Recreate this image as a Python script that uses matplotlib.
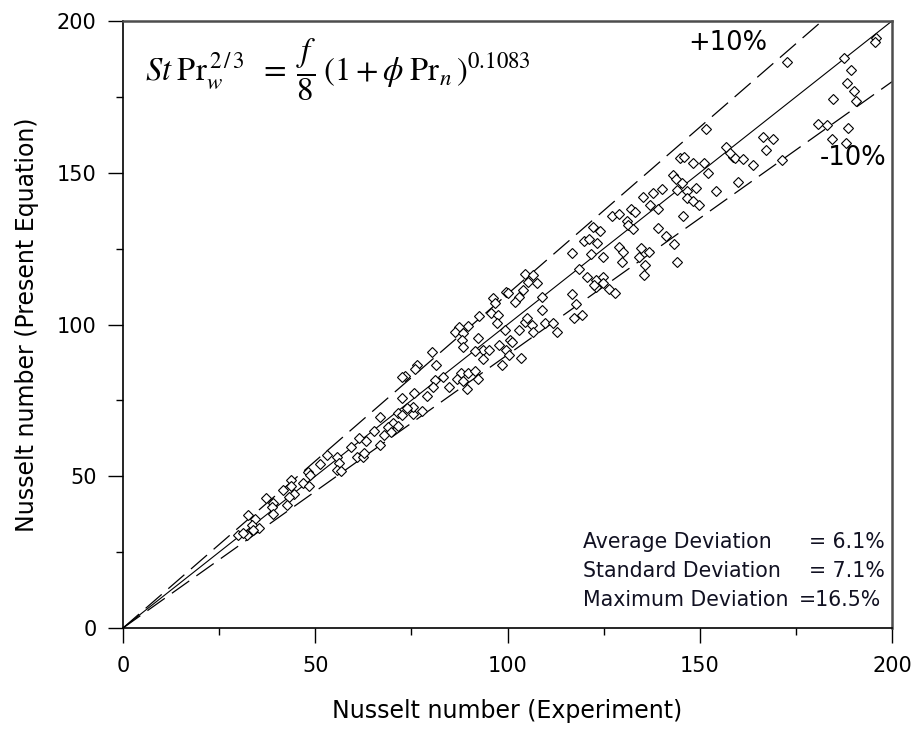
import numpy as np
import matplotlib
matplotlib.use("Agg")
import matplotlib.pyplot as plt

plt.rcParams['mathtext.fontset'] = 'stix'

# Nusselt number: experiment vs. present equation
nu_exp = [
    66.8, 71.6, 75.3, 72.5, 70.3, 69.0, 71.6, 69.6, 67.9, 66.8, 65.3, 61.5, 63.2, 59.2, 60.9,
    62.5, 62.7, 53.1, 55.7, 56.3, 55.7, 56.6, 51.2, 48.2, 48.6, 46.9, 48.5, 43.6, 41.7, 43.6,
    44.5, 43.3, 42.6, 37.2, 39.1, 38.7, 39.1, 32.6, 34.3, 33.5, 35.4, 32.3, 30.0, 31.3, 33.9,
    105.4, 107.6, 99.6, 100.2, 96.3, 96.7, 103.1, 104.1, 101.9, 109.1, 116.7, 117.8, 123.0, 108.9, 119.3,
    117.3, 95.6, 97.4, 97.2, 92.7, 89.6, 87.5, 86.3, 88.5, 88.1, 88.5, 99.4, 103.1, 104.6, 105.0,
    106.3, 106.7, 109.8, 111.9, 112.8, 92.4, 93.7, 95.3, 93.6, 91.5, 97.9, 99.6, 100.6, 101.1, 100.5,
    103.4, 98.5, 81.3, 80.3, 76.5, 75.9, 73.3, 72.5, 87.8, 89.8, 91.5, 86.8, 88.3, 92.4, 89.4,
    83.3, 81.1, 80.7, 84.9, 79.1, 75.7, 75.5, 77.7, 73.8, 72.5, 104.6, 106.6,
    144.9, 145.9, 148.2, 151.1, 152.2, 158.6, 159.2, 161.2, 163.9, 160.0, 143.1, 143.8, 145.3, 144.0, 146.8,
    149.0, 154.1, 146.6, 148.2, 149.9, 140.1, 137.9, 135.2, 137.1, 139.1, 145.7, 132.1, 133.2, 127.2, 129.1,
    131.2, 131.4, 132.6, 122.2, 124.1, 139.1, 141.2, 143.3, 119.9, 121.3, 123.2, 129.1, 130.1, 134.7, 136.9,
    124.8, 121.6, 129.7, 134.3, 135.8, 135.5, 144.2, 118.7, 120.8, 123.0, 124.9, 122.5, 124.9, 126.5, 128.0,
    116.7,
    172.6, 195.8, 195.6, 187.5, 189.3, 188.2, 190.1, 190.6, 184.6, 180.8, 183.0, 188.6, 184.3, 188.0, 166.4,
    169.1, 167.2, 171.3, 151.5, 156.8, 157.9,
]
nu_eq = [
    69.6, 70.7, 70.5, 70.2, 67.6, 66.3, 66.6, 64.7, 63.6, 60.3, 65.0, 62.5, 61.7, 59.5, 56.4,
    56.4, 57.8, 57.0, 56.4, 54.5, 52.1, 51.8, 54.0, 51.5, 50.4, 47.9, 46.8, 48.8, 45.5, 46.8,
    44.2, 43.1, 40.5, 42.7, 41.3, 40.0, 37.6, 37.2, 35.8, 33.9, 32.8, 30.6, 30.6, 31.4, 32.3,
    114.1, 113.6, 110.8, 110.3, 108.6, 107.0, 109.2, 111.4, 107.5, 109.2, 110.0, 106.8, 112.5, 104.8, 103.1,
    102.0, 103.7, 103.1, 100.4, 102.8, 99.5, 99.3, 97.6, 97.1, 94.9, 92.7, 98.2, 98.2, 100.9, 102.0,
    99.8, 97.6, 100.6, 100.6, 97.6, 95.4, 91.6, 91.6, 88.5, 91.4, 93.2, 91.6, 94.9, 94.3, 90.0,
    88.9, 86.7, 86.7, 91.0, 86.7, 85.2, 83.0, 82.6, 84.1, 83.9, 84.8, 81.9, 81.5, 81.9, 78.6,
    82.6, 81.7, 79.5, 79.3, 76.4, 77.3, 72.9, 71.6, 72.4, 75.7, 116.5, 116.3,
    154.9, 155.2, 153.1, 153.1, 149.8, 155.3, 154.8, 154.4, 152.6, 147.1, 149.3, 147.8, 146.5, 144.3, 144.1,
    144.9, 144.0, 141.6, 140.8, 139.4, 144.5, 143.4, 142.1, 139.4, 137.9, 135.7, 137.9, 137.0, 135.8, 136.3,
    134.2, 132.8, 131.4, 132.0, 130.9, 131.9, 129.2, 126.5, 127.6, 128.1, 127.0, 125.6, 123.9, 125.1, 123.9,
    122.1, 123.2, 120.7, 122.1, 119.6, 116.3, 120.6, 118.2, 115.6, 114.7, 115.8, 113.0, 113.6, 111.6, 110.3,
    123.5,
    186.6, 194.3, 193.2, 187.7, 183.9, 179.7, 177.1, 173.7, 174.2, 166.1, 165.7, 164.9, 161.0, 159.9, 161.9,
    161.0, 157.5, 154.2, 164.5, 158.6, 156.4,
]

axis_range = [0, 200]
band = 0.10
stat_names = ['Average Deviation', 'Standard Deviation', 'Maximum Deviation']
stat_values = ['= 6.1%', '= 7.1%', '=16.5%']

fig = plt.figure(figsize=(9.18, 7.29), dpi=100)
ax = fig.add_axes([123 / 918, 1 - 628 / 729, 769 / 918, 607 / 729])

line_x = np.array(axis_range, dtype=float)
ax.plot(line_x, line_x, color='black', lw=0.8)
ax.plot(line_x, line_x * (1 + band), color='black', lw=0.9, dashes=(17, 7))
ax.plot(line_x, line_x * (1 - band), color='black', lw=0.9, dashes=(17, 7))

ax.plot(nu_exp, nu_eq, linestyle='none', marker='D', markersize=5.6,
        markerfacecolor='white', markeredgecolor='black', markeredgewidth=0.8)

ax.set_xlim(axis_range)
ax.set_ylim(axis_range)
ax.set_xticks(np.arange(0, 201, 50))
ax.set_yticks(np.arange(0, 201, 50))
ax.set_xticks(np.arange(25, 200, 50), minor=True)
ax.set_yticks(np.arange(25, 200, 50), minor=True)
ax.tick_params(which='major', direction='out', length=11, width=1.0, labelsize=15, pad=9)
ax.tick_params(which='minor', direction='out', length=5, width=1.0)
ax.tick_params(axis='y', which='major', pad=8)

for side in ['left', 'bottom']:
    ax.spines[side].set_linewidth(1.2)
    ax.spines[side].set_color('black')
for side in ['top', 'right']:
    ax.spines[side].set_linewidth(1.8)
    ax.spines[side].set_color('#4d4d4d')

ax.set_xlabel('Nusselt number (Experiment)', fontsize=17, labelpad=17)
ax.set_ylabel('Nusselt number (Present Equation)', fontsize=17, labelpad=13)

ax.text(5.7, 183.9,
        r'$St\;\mathrm{Pr}_{w}^{\,2\,/\,3}\;\;=\;\dfrac{f}{8}\;(1+\phi\;\mathrm{Pr}_{n}\,)^{0.1083}$',
        fontsize=23.5, ha='left', va='center')
ax.text(147, 192.7, '+10%', fontsize=18.5, ha='left', va='center')
ax.text(181.3, 154.9, '-10%', fontsize=18.5, ha='left', va='center')

rows_y = [28.3, 18.8, 9.2]
value_x = [178.4, 178.4, 175.8]
for name, val, yy, vx in zip(stat_names, stat_values, rows_y, value_x):
    ax.text(119.6, yy, name, fontsize=14.8, ha='left', va='center', color='#111122')
    ax.text(vx, yy, val, fontsize=14.8, ha='left', va='center', color='#111122')

fig.savefig('out.png', dpi=100)
